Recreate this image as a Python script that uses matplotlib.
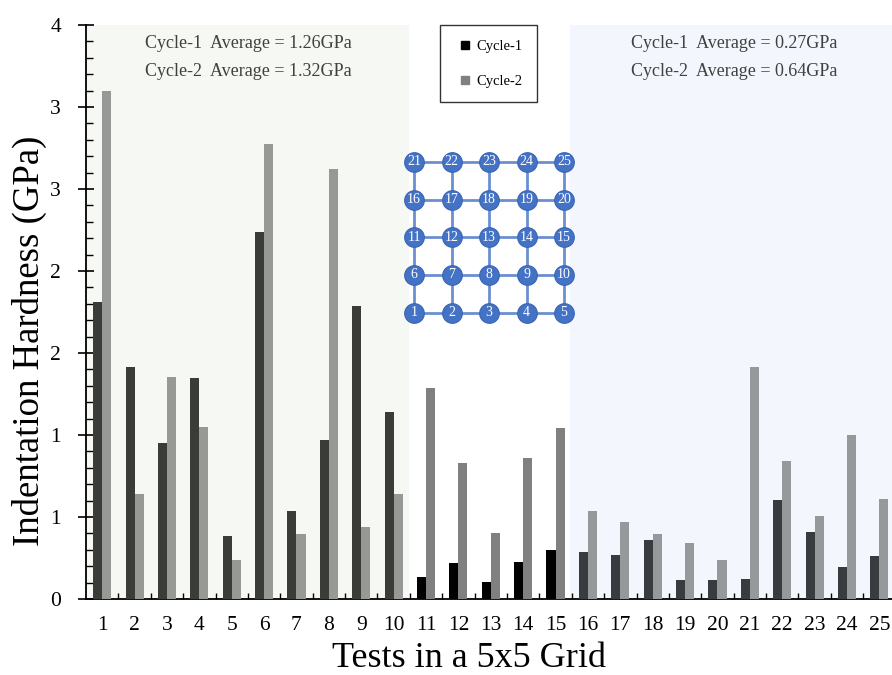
import numpy as np
import matplotlib
matplotlib.use("Agg")
import matplotlib.pyplot as plt
from matplotlib.lines import Line2D
from matplotlib.ticker import AutoMinorLocator

plt.rcParams['font.family'] = ['Liberation Serif', 'DejaVu Serif']

tests = list(range(1, 26))
cycle1 = [2.07, 1.62, 1.09, 1.54, 0.44, 2.56, 0.61, 1.11, 2.04, 1.30,
          0.15, 0.25, 0.12, 0.26, 0.34,
          0.33, 0.31, 0.41, 0.13, 0.13, 0.14, 0.69, 0.47, 0.22, 0.30]
cycle2 = [3.54, 0.73, 1.55, 1.20, 0.27, 3.17, 0.45, 3.00, 0.50, 0.73,
          1.47, 0.95, 0.46, 0.98, 1.19,
          0.61, 0.54, 0.45, 0.39, 0.27, 1.62, 0.96, 0.58, 1.14, 0.70]
ytick_values = [0, 4/7, 8/7, 12/7, 16/7, 20/7, 24/7, 4]
ytick_labels = ["0", "1", "1", "2", "2", "3", "3", "4"]
avg_left = ["Cycle-1  Average = 1.26GPa", "Cycle-2  Average = 1.32GPa"]
avg_right = ["Cycle-1  Average = 0.27GPa", "Cycle-2  Average = 0.64GPa"]

# region colours
c1_colors = ['#3a3c38'] * 10 + ['#000000'] * 5 + ['#393c3f'] * 10
c2_colors = ['#979996'] * 10 + ['#808080'] * 5 + ['#96989b'] * 10

W, H = 892, 675
fig = plt.figure(figsize=(W / 100, H / 100), dpi=100)
ax = fig.add_axes([86 / W, 76 / H, (892 - 86) / W, (599 - 25) / H])

x = np.array(tests, dtype=float)
bw = 0.28
ax.bar(x - bw / 2, cycle1, width=bw, color=c1_colors, zorder=3)
ax.bar(x + bw / 2, cycle2, width=bw, color=c2_colors, zorder=3)

ax.set_xlim(0.5, 25.39)
ax.set_ylim(0, 4)

# shaded regions
ax.axvspan(0.5, 10.45, color='#f6f8f3', zorder=0)
ax.axvspan(15.45, 25.6, color='#f3f7fd', zorder=0)

for s in ['top', 'right']:
    ax.spines[s].set_visible(False)
ax.spines['left'].set_linewidth(1.3)
ax.spines['bottom'].set_linewidth(1.3)

ax.set_yticks(ytick_values)
ax.set_yticklabels(ytick_labels, fontsize=15.5)
ax.yaxis.set_minor_locator(AutoMinorLocator(5))
ax.tick_params(axis='y', which='major', direction='inout', length=12, width=1.2, pad=12)
ax.tick_params(axis='y', which='minor', direction='in', length=5, width=1.0)

ax.set_xticks(tests)
ax.set_xticklabels([str(t) for t in tests], fontsize=15.5)
ax.set_xticks(np.arange(1.5, 25, 1.0), minor=True)
ax.tick_params(axis='x', which='major', length=0, pad=12)
ax.tick_params(axis='x', which='minor', direction='in', length=4, width=1.0)

ax.set_ylabel("Indentation Hardness (GPa)", fontsize=26.5, labelpad=2, y=0.45)
ax.set_xlabel("Tests in a 5x5 Grid", fontsize=26, labelpad=5, x=(469 - 86) / 806)

# average annotations
for i, t in enumerate(avg_left):
    fig.text(248 / W, 1 - (43 + 29 * i) / H, t, fontsize=13, color='#404040',
             ha='center', va='center')
for i, t in enumerate(avg_right):
    fig.text(734 / W, 1 - (43 + 29 * i) / H, t, fontsize=13, color='#404040',
             ha='center', va='center')

# legend
handles = [Line2D([], [], marker='s', linestyle='none', color='#000000', markersize=6),
           Line2D([], [], marker='s', linestyle='none', color='#808080', markersize=6)]
leg = fig.legend(handles, ["Cycle-1", "Cycle-2"], loc='upper left',
                 bbox_to_anchor=(440 / W, 1 - 25 / H), fontsize=10.5,
                 frameon=True, fancybox=False, edgecolor='black',
                 handlelength=1.4, handletextpad=0.1, labelspacing=1.5,
                 borderpad=1.0, borderaxespad=0)
leg.get_frame().set_linewidth(1.0)

# 5x5 grid diagram
sx, sy = 37.5, 37.7
gx0 = 414 - sx / 2
gy_bottom = 312.7 + sy / 2
gax = fig.add_axes([gx0 / W, (H - gy_bottom) / H, 5 * sx / W, 5 * sy / H])
gax.set_xlim(-0.5, 4.5)
gax.set_ylim(-0.5, 4.5)
gax.axis('off')
gax.patch.set_alpha(0)
for k in range(5):
    gax.plot([0, 4], [k, k], color='#6a8fd0', lw=2, zorder=1)
    gax.plot([k, k], [0, 4], color='#6a8fd0', lw=2, zorder=1)
gx, gy = np.meshgrid(np.arange(5), np.arange(5))
gax.scatter(gx.ravel(), gy.ravel(), s=200, color='#4472c4', edgecolor='#3a65b5',
            linewidth=0.8, zorder=2)
for r in range(5):
    for c in range(5):
        gax.text(c, r, str(r * 5 + c + 1), color='white', fontsize=10,
                 ha='center', va='center', zorder=3)

fig.savefig("out.png", dpi=100)
